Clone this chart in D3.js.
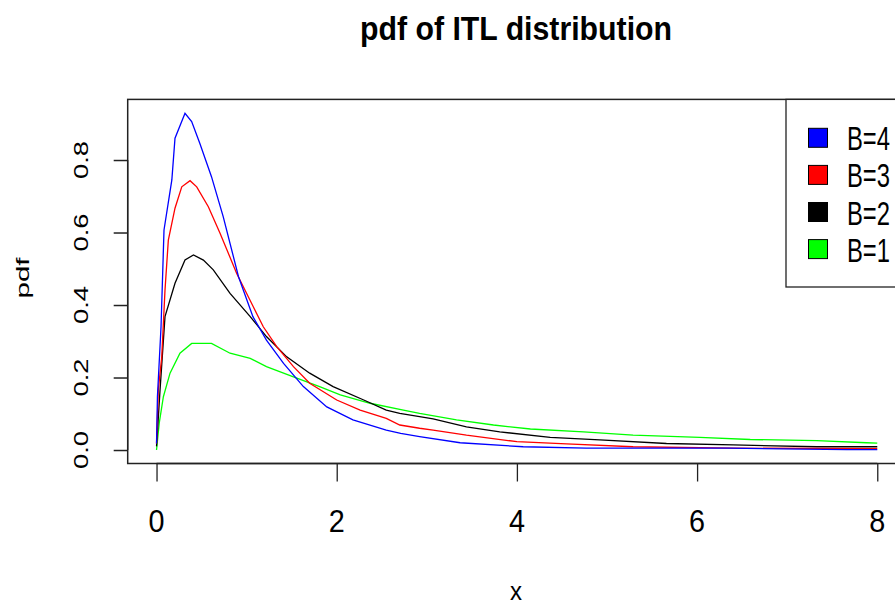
<!DOCTYPE html>
<html>
<head>
<meta charset="utf-8">
<script src="https://cdn.jsdelivr.net/npm/d3@7"></script>
<style>
  body { margin: 0; background: #fff; }
  text { font-family: "Liberation Sans", Arial, sans-serif; fill: #000; }
</style>
</head>
<body>
<div id="chart"></div>
<script>
// values
var xTicks = [0, 2, 4, 6, 8];
var yTicks = [0.0, 0.2, 0.4, 0.6, 0.8];
var legendLabels = ["B=4", "B=3", "B=2", "B=1"];
var legendColors = ["#0000ff", "#ff0000", "#000000", "#00ff00"];

var b4X = [0, 0.01, 0.05, 0.083, 0.17, 0.205, 0.316, 0.39, 0.48, 0.61, 0.74, 0.91, 1.07, 1.22, 1.41, 1.63, 1.89, 2.18, 2.55, 2.71, 2.92, 3.37, 4.07, 4.77, 6.34, 7.66, 8];
var b4Y = [0.018, 0.147, 0.34, 0.607, 0.745, 0.86, 0.929, 0.906, 0.846, 0.754, 0.644, 0.478, 0.368, 0.303, 0.239, 0.175, 0.119, 0.083, 0.055, 0.046, 0.037, 0.02, 0.009, 0.005, 0.005, 0.001, 0.001];

var b3X = [0, 0.02, 0.058, 0.094, 0.131, 0.205, 0.28, 0.372, 0.446, 0.575, 0.705, 0.89, 1.074, 1.185, 1.334, 1.52, 1.70, 2.0, 2.26, 2.55, 2.70, 2.92, 3.07, 3.44, 4.0, 4.55, 5.29, 6.4, 8];
var b3Y = [0.018, 0.166, 0.257, 0.441, 0.579, 0.667, 0.726, 0.743, 0.726, 0.671, 0.598, 0.487, 0.395, 0.34, 0.285, 0.23, 0.184, 0.138, 0.11, 0.087, 0.069, 0.06, 0.055, 0.041, 0.023, 0.017, 0.009, 0.005, 0.004];

var b2X = [0, 0.039, 0.094, 0.205, 0.316, 0.41, 0.52, 0.63, 0.816, 1.04, 1.22, 1.445, 1.70, 1.96, 2.30, 2.55, 2.70, 2.92, 3.07, 3.44, 3.81, 4.37, 4.92, 5.66, 6.40, 7.33, 8];
var b2Y = [0.01, 0.166, 0.368, 0.46, 0.524, 0.538, 0.524, 0.497, 0.432, 0.368, 0.313, 0.257, 0.212, 0.175, 0.138, 0.11, 0.101, 0.092, 0.086, 0.064, 0.05, 0.035, 0.028, 0.018, 0.014, 0.009, 0.009];

var b1X = [0, 0.03, 0.076, 0.15, 0.26, 0.39, 0.61, 0.816, 1.04, 1.22, 1.52, 1.81, 2.04, 2.37, 2.74, 2.92, 3.33, 3.74, 4.15, 4.74, 5.29, 6.03, 6.59, 7.33, 7.88, 8];
var b1Y = [0, 0.074, 0.147, 0.212, 0.267, 0.294, 0.294, 0.267, 0.253, 0.23, 0.202, 0.175, 0.152, 0.129, 0.11, 0.101, 0.083, 0.069, 0.058, 0.05, 0.041, 0.035, 0.029, 0.026, 0.02, 0.019];

var seriesX = [b4X, b3X, b2X, b1X];
var seriesY = [b4Y, b3Y, b2Y, b1Y];

var width = 895, height = 611;

var svg = d3.select("#chart").append("svg")
  .attr("width", width)
  .attr("height", height);

var x = d3.scaleLinear().domain([-0.32, 8.32]).range([127.7, 906.1]);
var y = d3.scaleLinear().domain([-0.0372, 0.9672]).range([463.5, 99.4]);

// curves (drawn first, box on top)
var line = d3.line()
  .x(function(d) { return x(d[0]); })
  .y(function(d) { return y(d[1]); });

for (var s = seriesX.length - 1; s >= 0; s--) {
  var pts = seriesX[s].map(function(v, i) { return [v, seriesY[s][i]]; });
  svg.append("path")
    .datum(pts)
    .attr("d", line)
    .attr("fill", "none")
    .attr("stroke", legendColors[s])
    .attr("stroke-width", 1.3);
}

// plot box
svg.append("rect")
  .attr("x", x.range()[0])
  .attr("y", y.range()[1])
  .attr("width", x.range()[1] - x.range()[0])
  .attr("height", y.range()[0] - y.range()[1])
  .attr("fill", "none")
  .attr("stroke", "#222")
  .attr("stroke-width", 1.5);

// x axis
var xAxis = d3.axisBottom(x).tickValues(xTicks).tickSize(18).tickFormat("");
var gx = svg.append("g").attr("transform", "translate(0,463.5)").call(xAxis);
gx.select(".domain").attr("d", "M" + x(xTicks[0]) + ",0H" + x(xTicks[xTicks.length - 1]))
  .attr("stroke", "#222").attr("stroke-width", 1.5);
gx.selectAll(".tick line").attr("stroke", "#222").attr("stroke-width", 1.3);

svg.selectAll(".xlab")
  .data(xTicks)
  .enter()
  .append("text")
  .attr("class", "xlab")
  .attr("x", function(d) { return x(d); })
  .attr("y", 531.5)
  .attr("text-anchor", "middle")
  .style("font-size", "32px")
  .attr("textLength", 16)
  .attr("lengthAdjust", "spacingAndGlyphs")
  .text(function(d) { return d; });

// y axis
var yAxis = d3.axisLeft(y).tickValues(yTicks).tickSize(14).tickFormat("");
var gy = svg.append("g").attr("transform", "translate(127.7,0)").call(yAxis);
gy.select(".domain").attr("d", "M0," + y(yTicks[0]) + "V" + y(yTicks[yTicks.length - 1]))
  .attr("stroke", "#222").attr("stroke-width", 1.3);
gy.selectAll(".tick line").attr("stroke", "#222").attr("stroke-width", 1.5);

svg.selectAll(".ylab")
  .data(yTicks)
  .enter()
  .append("text")
  .attr("class", "ylab")
  .attr("transform", function(d) { return "translate(88," + y(d) + ") rotate(-90)"; })
  .attr("text-anchor", "middle")
  .style("font-size", "20px")
  .attr("textLength", 38)
  .attr("lengthAdjust", "spacingAndGlyphs")
  .text(function(d) { return d3.format(".1f")(d); });

// axis titles
svg.append("text")
  .attr("x", 516)
  .attr("y", 600)
  .attr("text-anchor", "middle")
  .style("font-size", "25px")
  .attr("textLength", 12)
  .attr("lengthAdjust", "spacingAndGlyphs")
  .text("x");

svg.append("text")
  .attr("transform", "translate(29,278) rotate(-90)")
  .attr("text-anchor", "middle")
  .style("font-size", "18px")
  .attr("textLength", 41)
  .attr("lengthAdjust", "spacingAndGlyphs")
  .text("pdf");

// title
svg.append("text")
  .attr("x", 360)
  .attr("y", 40)
  .style("font-size", "34px")
  .style("font-weight", "bold")
  .attr("textLength", 312)
  .attr("lengthAdjust", "spacingAndGlyphs")
  .text("pdf of ITL distribution");

// legend
var lg = svg.append("g");
lg.append("rect")
  .attr("x", 786)
  .attr("y", 99.4)
  .attr("width", 140)
  .attr("height", 287 - 99.4)
  .attr("fill", "#fff")
  .attr("stroke", "#222")
  .attr("stroke-width", 1.3);

var rows = lg.selectAll(".row")
  .data(legendLabels)
  .enter()
  .append("g")
  .attr("transform", function(d, i) { return "translate(0," + (137.8 + i * 37.1) + ")"; });

rows.append("rect")
  .attr("x", 808.5)
  .attr("y", -9.5)
  .attr("width", 19)
  .attr("height", 19)
  .attr("fill", function(d, i) { return legendColors[i]; })
  .attr("stroke", "#000")
  .attr("stroke-width", 1);

rows.append("text")
  .attr("x", 847)
  .attr("y", 12.5)
  .style("font-size", "33px")
  .attr("textLength", 43)
  .attr("lengthAdjust", "spacingAndGlyphs")
  .text(function(d) { return d; });
</script>
</body>
</html>
